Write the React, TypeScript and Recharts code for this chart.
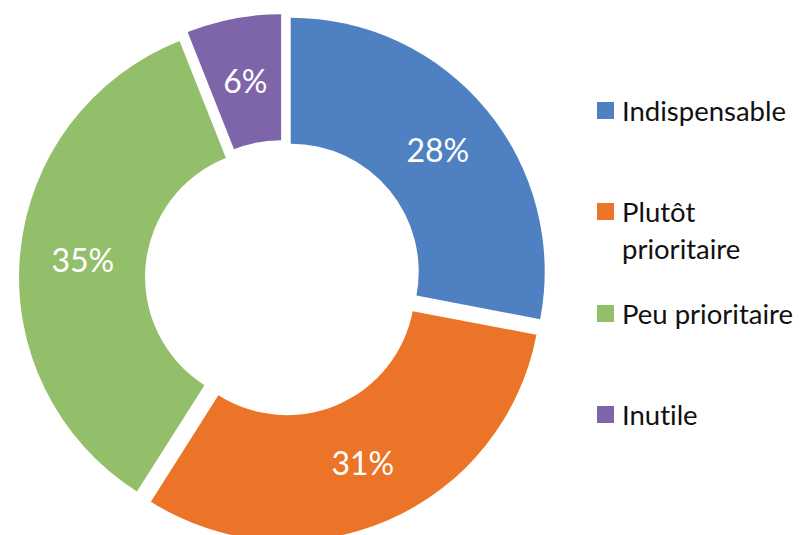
import { PieChart, Pie, Cell, Legend } from "recharts";

const CATEGORIES = ["Indispensable", "Plutôt prioritaire", "Peu prioritaire", "Inutile"];
const LEGEND_LINES = [["Indispensable"], ["Plutôt", "prioritaire"], ["Peu prioritaire"], ["Inutile"]];
const VALUES = [28, 31, 35, 6];
const COLORS = ["#4F81C2", "#EC7428", "#93BF6B", "#7E65A9"];

const FONT = "Lato, 'Noto Sans', sans-serif";
const CX = 278;
const CY = 273;
const INNER = 128;
const OUTER = 254;
const EXPLODE = 10;
const RAD = Math.PI / 180;

const data = CATEGORIES.map((name, i) => ({ name, value: VALUES[i] }));
const total = VALUES.reduce((s, v) => s + v, 0);

// offset of each slice along its mid-angle (exploded pie)
const offsets = VALUES.map((v, i) => {
  const before = VALUES.slice(0, i).reduce((s, x) => s + x, 0);
  const mid = 90 - 360 * ((before + v / 2) / total);
  return { dx: EXPLODE * Math.cos(mid * RAD), dy: -EXPLODE * Math.sin(mid * RAD) };
});

const LEGEND_TOPS = [92, 193, 295, 396];

function LegendContent() {
  return (
    <div style={{ position: "relative", width: 204, height: 535, fontFamily: FONT }}>
      {LEGEND_LINES.map((lines, i) => (
        <div
          key={i}
          style={{ position: "absolute", left: 0, top: LEGEND_TOPS[i], display: "flex", alignItems: "flex-start" }}
        >
          <div style={{ width: 17, height: 17, background: COLORS[i], marginTop: 10, marginRight: 8 }} />
          <div
            style={{
              fontSize: 27.5,
              lineHeight: "37px",
              color: "#111",
              whiteSpace: "nowrap",
              fontVariantLigatures: "none",
            }}
          >
            {lines.map((l) => (
              <div key={l}>{l}</div>
            ))}
          </div>
        </div>
      ))}
    </div>
  );
}

export default function App() {
  return (
    <div style={{ position: "absolute", left: 0, top: 0, background: "#fff" }}>
      <PieChart width={801} height={535}>
        {VALUES.map((_, k) => (
          <Pie
            key={k}
            data={data}
            dataKey="value"
            nameKey="name"
            cx={CX + offsets[k].dx}
            cy={CY + offsets[k].dy}
            innerRadius={INNER}
            outerRadius={OUTER}
            startAngle={90}
            endAngle={-270}
            stroke="none"
            isAnimationActive={false}
            legendType="none"
            labelLine={false}
            label={(p: any) => {
              if (p.index !== k) return null;
              const r = (p.innerRadius + p.outerRadius) / 2;
              const x = p.cx + r * Math.cos(-p.midAngle * RAD);
              const y = p.cy + r * Math.sin(-p.midAngle * RAD);
              return (
                <text
                  x={x}
                  y={y}
                  fill="#fff"
                  fontSize={32}
                  fontFamily={FONT}
                  textAnchor="middle"
                  dominantBaseline="central"
                >
                  {`${Math.round(p.percent * 100)}%`}
                </text>
              );
            }}
          >
            {data.map((d, i) => (
              <Cell key={d.name} fill={i === k ? COLORS[i] : "transparent"} />
            ))}
          </Pie>
        ))}
        <Legend
          content={() => <LegendContent />}
          wrapperStyle={{ position: "absolute", left: 597, top: 0, width: 204, height: 535 }}
        />
      </PieChart>
    </div>
  );
}
